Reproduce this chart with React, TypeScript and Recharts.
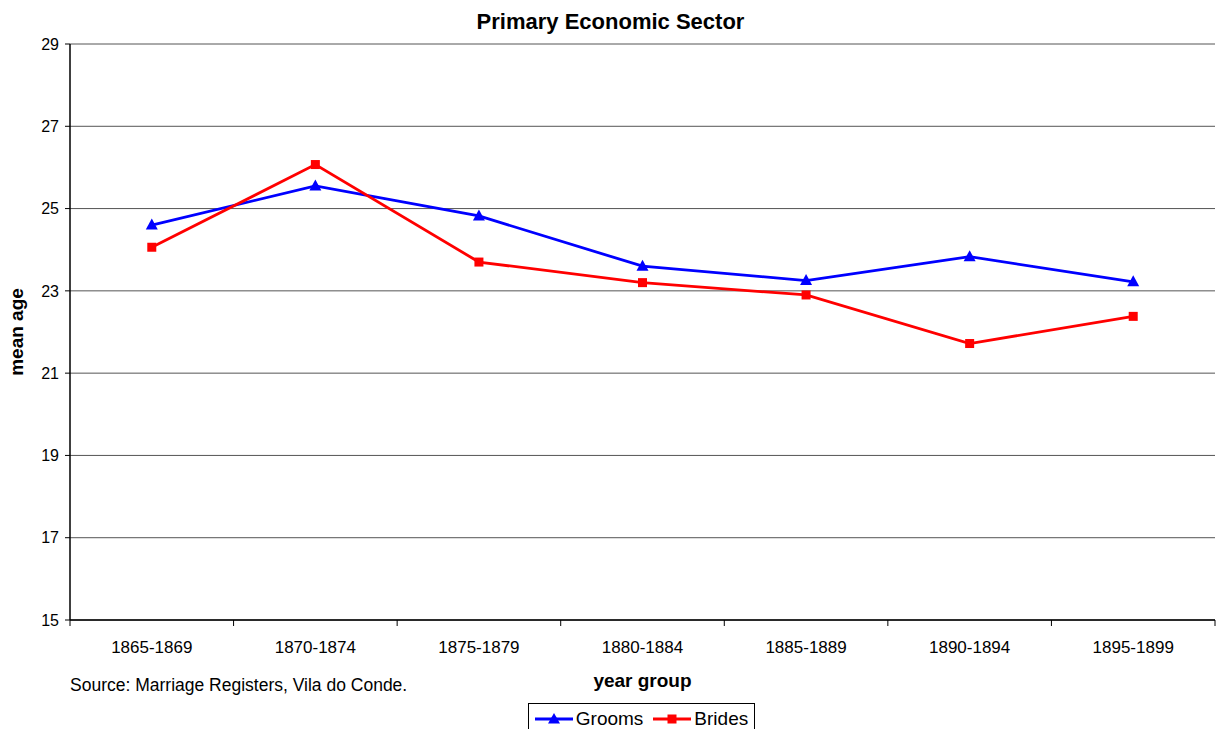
import React from "react";
import {
  CartesianGrid,
  Line,
  LineChart,
  XAxis,
  YAxis,
} from "recharts";

const yearGroups = [
  "1865-1869",
  "1870-1874",
  "1875-1879",
  "1880-1884",
  "1885-1889",
  "1890-1894",
  "1895-1899",
];
const grooms = [24.6, 25.55, 24.82, 23.6, 23.25, 23.83, 23.22];
const brides = [24.06, 26.07, 23.7, 23.2, 22.9, 21.72, 22.38];
const yTicks = [15, 17, 19, 21, 23, 25, 27, 29];

const data = yearGroups.map((g, i) => ({ group: g, grooms: grooms[i], brides: brides[i] }));

const W = 1221;
const H = 729;
const M = { top: 44, right: 6, left: 0, bottom: 39 };
const Y_W = 70;
const X_H = 70;
const FONT = "'Liberation Sans', Arial, sans-serif";
const BLUE = "#0000ff";
const RED = "#ff0000";

const plotW = W - M.left - M.right - Y_W;
const step = plotW / yearGroups.length;

const Triangle = (props: any) => {
  const { cx, cy } = props;
  if (cx == null || cy == null) return null;
  return (
    <polygon
      points={`${cx},${cy - 6.5} ${cx - 6},${cy + 4.5} ${cx + 6},${cy + 4.5}`}
      fill={BLUE}
    />
  );
};

const Square = (props: any) => {
  const { cx, cy } = props;
  if (cx == null || cy == null) return null;
  return <rect x={cx - 4.5} y={cy - 4.5} width={9} height={9} fill={RED} />;
};

// labels centred in each band, tick marks on band edges
const BandTick = (props: any) => {
  const { x, y, payload, index } = props;
  const axisY = y - 8;
  return (
    <g>
      <line x1={x - step / 2} x2={x - step / 2} y1={axisY} y2={axisY + 6} stroke="#000" />
      {index === yearGroups.length - 1 && (
        <line x1={x + step / 2} x2={x + step / 2} y1={axisY} y2={axisY + 6} stroke="#000" />
      )}
      <text x={x} y={axisY + 33} textAnchor="middle" fontSize={17} fill="#000" fontFamily={FONT}>
        {payload.value}
      </text>
    </g>
  );
};

export default function App() {
  return (
    <div style={{ position: "absolute", left: 0, top: 0, width: W, height: H, background: "#fff", fontFamily: FONT }}>
      <div
        style={{
          position: "absolute",
          left: 0,
          width: W,
          top: 9,
          textAlign: "center",
          fontWeight: "bold",
          fontSize: 22,
          lineHeight: "26px",
        }}
      >
        Primary Economic Sector
      </div>
      <LineChart width={W} height={H} data={data} margin={M}>
        <CartesianGrid vertical={false} stroke="#555" strokeWidth={1} />
        <XAxis
          dataKey="group"
          height={X_H}
          padding={{ left: step / 2, right: step / 2 }}
          tickLine={false}
          tick={<BandTick />}
          axisLine={{ stroke: "#000", strokeWidth: 1.5 }}
          interval={0}
          label={{
            value: "year group",
            position: "insideBottom",
            offset: 3,
            fontSize: 19,
            fontWeight: "bold",
            fill: "#000",
            fontFamily: FONT,
          }}
        />
        <YAxis
          width={Y_W}
          domain={[15, 29]}
          ticks={yTicks}
          tickSize={5}
          tickMargin={6}
          tick={{ fontSize: 16, fill: "#000", fontFamily: FONT }}
          axisLine={{ stroke: "#000", strokeWidth: 1.5 }}
          tickLine={{ stroke: "#000" }}
          label={{
            value: "mean age",
            angle: -90,
            position: "insideLeft",
            offset: 16,
            style: { textAnchor: "middle" },
            fontSize: 19,
            fontWeight: "bold",
            fill: "#000",
            fontFamily: FONT,
          }}
        />
        <Line
          type="linear"
          dataKey="grooms"
          name="Grooms"
          stroke={BLUE}
          strokeWidth={2.8}
          dot={<Triangle />}
          activeDot={false}
          isAnimationActive={false}
        />
        <Line
          type="linear"
          dataKey="brides"
          name="Brides"
          stroke={RED}
          strokeWidth={2.8}
          dot={<Square />}
          activeDot={false}
          isAnimationActive={false}
        />
      </LineChart>
      <div style={{ position: "absolute", left: 70, top: 674, fontSize: 17.5, lineHeight: "22px" }}>
        Source: Marriage Registers, Vila do Conde.
      </div>
      <div
        style={{
          position: "absolute",
          left: 528,
          top: 703,
          width: 225,
          height: 30,
          border: "1px solid #000",
          display: "flex",
          alignItems: "center",
          justifyContent: "center",
          gap: 10,
          fontSize: 19,
        }}
      >
        <span style={{ display: "flex", alignItems: "center", gap: 3 }}>
          <svg width={38} height={14}>
            <line x1={0} x2={38} y1={7} y2={7} stroke={BLUE} strokeWidth={2.8} />
            <polygon points="19,1 13,11.5 25,11.5" fill={BLUE} />
          </svg>
          Grooms
        </span>
        <span style={{ display: "flex", alignItems: "center", gap: 3 }}>
          <svg width={38} height={14}>
            <line x1={0} x2={38} y1={7} y2={7} stroke={RED} strokeWidth={2.8} />
            <rect x={14.5} y={2.5} width={9} height={9} fill={RED} />
          </svg>
          Brides
        </span>
      </div>
    </div>
  );
}
